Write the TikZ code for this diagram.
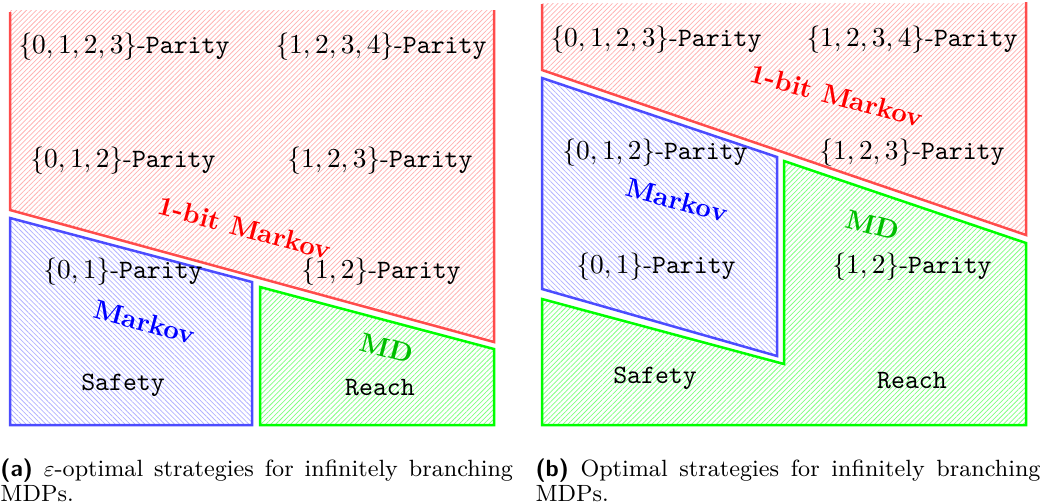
\documentclass[tikz,border=0pt]{standalone}
\usepackage{xcolor}
\usepackage{tikz}
\usetikzlibrary{patterns.meta}

\begin{document}
\begin{tikzpicture}[
  x=0.4pt, y=-0.4pt,
  every node/.style={font=\fontsize{10.6}{12}\selectfont, inner sep=1pt},
  redzone/.style={pattern={Lines[angle=45, distance=1.4pt, line width=0.3pt]}, pattern color=red!30},
  bluezone/.style={pattern={Lines[angle=-45, distance=1.4pt, line width=0.3pt]}, pattern color=blue!30},
  greenzone/.style={pattern={Lines[angle=45, distance=1.4pt, line width=0.3pt]}, pattern color=green!50},
  redline/.style={draw=red!70, line width=1pt},
  blueline/.style={draw=blue!70, line width=1pt},
  greenline/.style={draw=green, line width=1pt},
  cls/.style={font=\fontsize{10.8}{12}\selectfont\bfseries, rotate=-15},
  caption/.style={anchor=north west, inner sep=0pt, align=justify, font=\fontsize{9.4}{10}\selectfont}
]
\useasboundingbox (0,0) rectangle (1043,502);

% (a) epsilon-optimal
\fill[redzone] (10,10) -- (10,210) -- (494,342) -- (494,10) -- cycle;
\draw[redline] (10,12) -- (10,210) -- (494,342) -- (494,10);
\filldraw[bluezone, blueline] (10,218) -- (252,282) -- (252,425) -- (10,425) -- cycle;
\filldraw[greenzone, greenline] (260,287) -- (494,349) -- (494,425) -- (260,425) -- cycle;

\node (pa0123) at (124,47) {$\{0,1,2,3\}$-\texttt{Parity}};
\node (pa1234) at (381,47) {$\{1,2,3,4\}$-\texttt{Parity}};
\node (pa012) at (123,161) {$\{0,1,2\}$-\texttt{Parity}};
\node (pa123) at (380,161) {$\{1,2,3\}$-\texttt{Parity}};
\node[cls, red] (bita) at (245,228) {1-bit Markov};
\node (pa01) at (123,272) {$\{0,1\}$-\texttt{Parity}};
\node (pa12) at (381,272) {$\{1,2\}$-\texttt{Parity}};
\node[cls, blue] (markova) at (145,322) {Markov};
\node[cls, green!75!black] (mda) at (387,348) {MD};
\node (safetya) at (123,385) {\texttt{Safety}};
\node (reacha) at (380,388) {\texttt{Reach}};

% (b) optimal
\fill[redzone] (542,3) -- (542,70) -- (1026,235) -- (1026,3) -- cycle;
\draw[redline] (542,4) -- (542,70) -- (1026,235) -- (1026,2);
\filldraw[bluezone, blueline] (542,78) -- (777,157) -- (777,356) -- (542,289) -- cycle;
\filldraw[greenzone, greenline] (542,299) -- (784,364) -- (784,161) -- (1026,243) -- (1026,425) -- (542,425) -- cycle;

\node (pb0123) at (656,40) {$\{0,1,2,3\}$-\texttt{Parity}};
\node (pb1234) at (912,40) {$\{1,2,3,4\}$-\texttt{Parity}};
\node[cls, red] (bitb) at (837,96) {1-bit Markov};
\node (pb012) at (655,153) {$\{0,1,2\}$-\texttt{Parity}};
\node (pb123) at (912,153) {$\{1,2,3\}$-\texttt{Parity}};
\node[cls, blue] (markovb) at (677,200) {Markov};
\node[cls, green!75!black] (mdb) at (873,225) {MD};
\node (pb01) at (656,267) {$\{0,1\}$-\texttt{Parity}};
\node (pb12) at (912,267) {$\{1,2\}$-\texttt{Parity}};
\node (safetyb) at (655,378) {\texttt{Safety}};
\node (reachb) at (912,381) {\texttt{Reach}};

% captions
\node[caption, text width=205pt] (capa) at (0,458) {\textsf{\textbf{(a)}} $\varepsilon$-optimal strategies for infinitely branching MDPs.};
\node[caption, text width=202pt] (capb) at (535,458) {\textsf{\textbf{(b)}} Optimal strategies for infinitely branching MDPs.};

\end{tikzpicture}
\end{document}
